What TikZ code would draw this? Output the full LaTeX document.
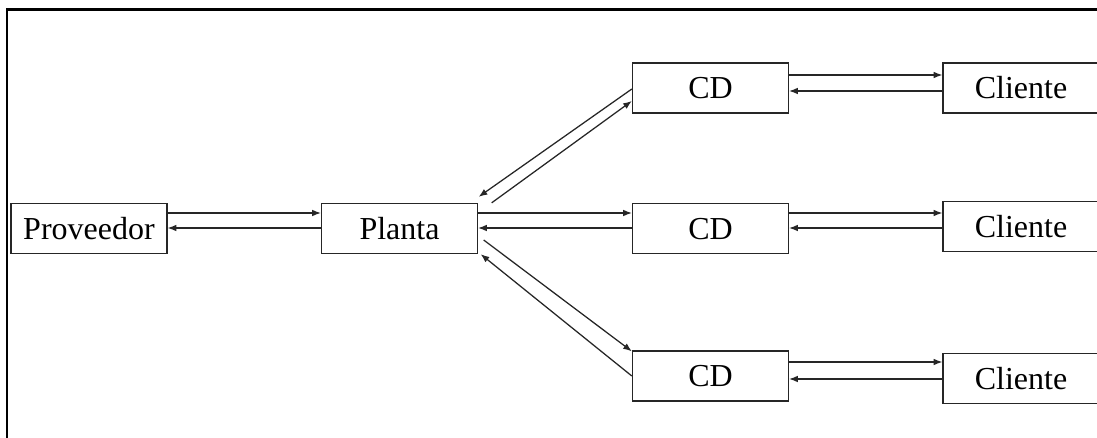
\documentclass[tikz,border=0pt]{standalone}
\usepackage{fontspec}
\setmainfont{Liberation Serif}
\usetikzlibrary{calc,arrows.meta}
\begin{document}
\begin{tikzpicture}[x=0.75pt,y=-0.75pt,
  box/.style={draw=black!85,line width=1pt,minimum width=117pt,minimum height=37.5pt,
    inner sep=0pt,font=\fontsize{24}{28}\selectfont,text height=15.9pt,text depth=0pt},
  link/.style={draw=black!85,line width=0.95pt,-{Latex[length=6.5pt,width=5pt]}},
  frame/.style={draw=black,line width=1.6pt}]
  \useasboundingbox (0,0) rectangle (1097,438);
  \clip (0,0) rectangle (1097,438);
  % outer frame (only its left and top sides fall inside the page)
  \draw[frame] (7,460) -- (7,9.5) -- (1120,9.5);

  % nodes
  \node[box] (prov)   at (89,228.5)   {Proveedor};
  \node[box] (planta) at (399.5,228.5) {Planta};
  \node[box] (cd1)    at (710.5,88)   {CD};
  \node[box] (cd2)    at (710.5,228.5) {CD};
  \node[box] (cd3)    at (710.5,376)  {CD};
  \node[box] (cl1)    at (1021,88)    {Cliente};
  \node[box] (cl2)    at (1021,226.5) {Cliente};
  \node[box] (cl3)    at (1021,378.5) {Cliente};

  % Proveedor <-> Planta
  \draw[link] ($(prov.east)+(0,-15.5)$) coordinate (t) -- (t -| planta.west);
  \draw[link] ($(planta.west)+(0,-0.5)$) coordinate (t) -- (t -| prov.east);

  % Planta <-> middle CD
  \draw[link] ($(planta.east)+(0,-15.5)$) coordinate (t) -- (t -| cd2.west);
  \draw[link] ($(cd2.west)+(0,-0.5)$) coordinate (t) -- (t -| planta.east);

  % Planta <-> upper CD
  \draw[link] ($(cd1.west)+(0,1)$) -- ($(planta.north east)+(0.5,-6)$);
  \draw[link] ($(planta.north east)+(13.5,0)$) -- ($(cd1.west)+(0,13)$);

  % Planta <-> lower CD
  \draw[link] ($(planta.east)+(5.5,11.5)$) -- ($(cd3.north west)+(0,1)$);
  \draw[link] ($(cd3.west)+(0,0)$) -- ($(planta.south east)+(2.5,0)$);

  % CD <-> Cliente
  \draw[link] ($(cd1.east)+(0,-13)$) coordinate (t) -- (t -| cl1.west);
  \draw[link] ($(cl1.west)+(0,3)$) coordinate (t) -- (t -| cd1.east);
  \draw[link] ($(cd2.east)+(0,-15.5)$) coordinate (t) -- (t -| cl2.west);
  \draw[link] ($(cl2.west)+(0,1.5)$) coordinate (t) -- (t -| cd2.east);
  \draw[link] ($(cd3.east)+(0,-14)$) coordinate (t) -- (t -| cl3.west);
  \draw[link] ($(cl3.west)+(0,0.5)$) coordinate (t) -- (t -| cd3.east);
\end{tikzpicture}
\end{document}
